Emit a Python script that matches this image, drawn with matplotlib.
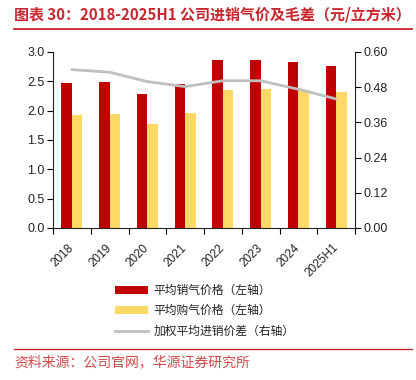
import matplotlib
matplotlib.use("Agg")
import matplotlib.pyplot as plt
from matplotlib.patches import Patch
from matplotlib.lines import Line2D
import numpy as np

categories = ["2018", "2019", "2020", "2021", "2022", "2023", "2024", "2025H1"]
sell_price = [2.48, 2.49, 2.29, 2.45, 2.86, 2.87, 2.83, 2.76]
buy_price = [1.93, 1.95, 1.78, 1.96, 2.36, 2.37, 2.36, 2.32]
spread = [0.540, 0.531, 0.499, 0.482, 0.502, 0.502, 0.473, 0.440]
left_ticks = [0.0, 0.5, 1.0, 1.5, 2.0, 2.5, 3.0]
right_ticks = [0.00, 0.12, 0.24, 0.36, 0.48, 0.60]
legend_labels = ["平均销气价格（左轴）", "平均购气价格（左轴）", "加权平均进销价差（右轴）"]
title = "图表 30：2018-2025H1 公司进销气价及毛差（元/立方米）"
source = "资料来源：公司官网，华源证券研究所"

RED = "#C00000"
YEL = "#FFD966"
GRY = "#BFBFBF"
TITLE_RED = "#C8262E"

plt.rcParams["font.family"] = ["Liberation Sans", "Noto Sans CJK SC", "DejaVu Sans"]

W, H = 416, 380
fig = plt.figure(figsize=(W / 100, H / 100), dpi=100)

def fx(px):
    return px / W

def fy(py):
    return 1 - py / H

ax = fig.add_axes([fx(53), fy(228), fx(355 - 53), (228 - 52) / H])
x = np.arange(len(categories))
bw = 0.28
ax.bar(x - bw / 2, sell_price, width=bw, color=RED, zorder=2)
ax.bar(x + bw / 2, buy_price, width=bw, color=YEL, zorder=2)
ax.set_xlim(-0.5, len(categories) - 0.5)
ax.set_ylim(0, 3.0)
ax.set_yticks(left_ticks)
ax.set_yticklabels([f"{v:.1f}" for v in left_ticks])
ax.set_xticks(np.arange(len(categories) + 1) - 0.5)
ax.set_xticklabels([])
ax.set_xticks(x, minor=True)
ax.set_xticklabels(categories, minor=True, rotation=45, ha="right", va="center",
                   rotation_mode="anchor")
ax.tick_params(axis="x", which="minor", length=0, pad=13, labelsize=8.5, colors="#222222")
ax.tick_params(axis="x", which="major", length=4, width=0.8, direction="out")
ax.tick_params(axis="y", length=4, width=0.8, labelsize=9, pad=2, labelcolor="#222222")
ax.spines["top"].set_visible(False)
ax.spines["right"].set_visible(False)
for s in ["left", "bottom"]:
    ax.spines[s].set_linewidth(0.8)
    ax.spines[s].set_color("#222222")

ax2 = ax.twinx()
ax2.plot(x, spread, color=GRY, lw=2, solid_joinstyle="round", solid_capstyle="round", zorder=3)
ax2.set_ylim(0, 0.60)
ax2.set_yticks(right_ticks)
ax2.set_yticklabels([f"{v:.2f}" for v in right_ticks])
ax2.tick_params(axis="y", length=4, width=0.8, labelsize=9, pad=2, labelcolor="#222222")
ax2.spines["top"].set_visible(False)
ax2.spines["left"].set_visible(False)
ax2.spines["bottom"].set_visible(False)
ax2.spines["right"].set_linewidth(0.8)
ax2.spines["right"].set_color("#222222")

handles = [Patch(facecolor=RED, edgecolor="none"),
           Patch(facecolor=YEL, edgecolor="none"),
           Line2D([0], [0], color=GRY, lw=2)]
fig.legend(handles, legend_labels, loc="upper left", bbox_to_anchor=(fx(115), fy(284)),
           frameon=False, prop={"family": ["Noto Sans CJK SC"], "size": 8.5},
           handlelength=2.8, handleheight=0.62, handletextpad=0.45, labelspacing=0.62,
           borderaxespad=0, borderpad=0, labelcolor="#222222")

fig.text(fx(14), fy(15), title, color=TITLE_RED, fontsize=10.8, fontweight="bold",
         family=["Noto Sans CJK SC"], ha="left", va="center")
fig.add_artist(Line2D([fx(14), fx(412)], [fy(29), fy(29)], color=TITLE_RED, lw=1.3))
fig.add_artist(Line2D([fx(14), fx(412)], [fy(349), fy(349)], color=TITLE_RED, lw=1.0))
fig.text(fx(14), fy(362), source, color="#D04A4A", fontsize=10,
         family=["Noto Sans CJK SC"], ha="left", va="center")

fig.savefig("out.png", dpi=100)
